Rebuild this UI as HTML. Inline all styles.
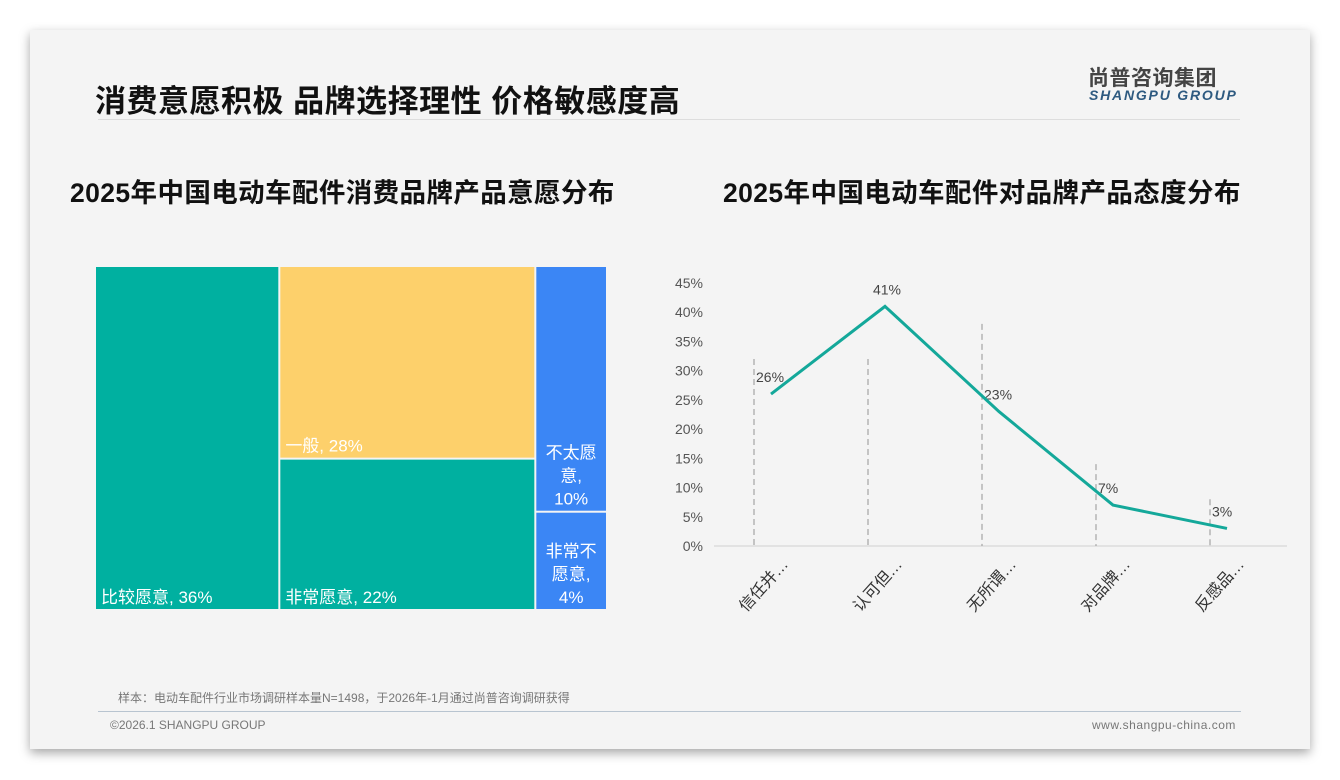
<!DOCTYPE html>
<html><head><meta charset="utf-8">
<style>
body{margin:0;width:1340px;height:780px;background:#fff;position:relative;overflow:hidden;font-family:"Liberation Sans","Noto Sans CJK SC",sans-serif}
#card{position:absolute;left:30px;top:30px;width:1280px;height:719px;background:#f4f4f4;box-shadow:0 4px 10px rgba(0,0,0,.35)}
.abs{position:absolute;white-space:nowrap}
</style></head><body>
<div id="card"></div>
<div class="abs" style="left:95px;top:76px;font-size:31px;font-weight:bold;color:#111;letter-spacing:0.5px">消费意愿积极 品牌选择理性 价格敏感度高</div>
<div class="abs" style="left:1088px;top:62px;font-size:21px;font-weight:bold;color:#444;letter-spacing:0.5px">尚普咨询集团</div>
<div class="abs" style="left:1089px;top:87px;font-size:14px;font-weight:bold;font-style:italic;color:#2e5a80;letter-spacing:1.8px">SHANGPU GROUP</div>
<div class="abs" style="left:98px;top:119px;width:1142px;height:1px;background:#ddd"></div>
<div class="abs" style="left:70px;top:171px;font-size:26.5px;font-weight:bold;color:#111;letter-spacing:0.4px">2025年中国电动车配件消费品牌产品意愿分布</div>
<div class="abs" style="left:723px;top:171px;font-size:26.5px;font-weight:bold;color:#111;letter-spacing:0.4px">2025年中国电动车配件对品牌产品态度分布</div>
<svg id="tm" class="abs" style="left:0;top:0" width="1340" height="780"></svg>
<div class="abs" style="left:118px;top:689px;font-size:12px;color:#777">样本：电动车配件行业市场调研样本量N=1498，于2026年-1月通过尚普咨询调研获得</div>
<div class="abs" style="left:98px;top:711px;width:1143px;height:1px;background:#b8c4d0"></div>
<div class="abs" style="left:110px;top:718px;font-size:12px;color:#777">©2026.1 SHANGPU GROUP</div>
<div class="abs" style="left:1092px;top:718px;font-size:12px;color:#777;letter-spacing:0.5px">www.shangpu-china.com</div>
<script>
const tmLabels=["比较愿意","一般","非常愿意","不太愿意","非常不愿意"];
const tmValues=[36,28,22,10,4];
const lnCats=["信任并…","认可但…","无所谓…","对品牌…","反感品…"];
const lnValues=[26,41,23,7,3];
const lnTicks=[0,5,10,15,20,25,30,35,40,45];
const dropTops=[32,32,38,14,8];
const NS="http://www.w3.org/2000/svg",svg=document.getElementById('tm');
function el(t,a,p){const e=document.createElementNS(NS,t);for(const k in a)e.setAttribute(k,a[k]);(p||svg).appendChild(e);return e;}
const X0=95,Y0=266,W=512,H=344,tot=tmValues.reduce((a,b)=>a+b,0);
const cols=[[0],[1,2],[3,4]],colors=["#00b0a0","#fdd06b","#00b0a0","#3b86f5","#3b86f5"];
let cx=X0;
cols.forEach(c=>{const s=c.reduce((a,i)=>a+tmValues[i],0),w=W*s/tot;let cy=Y0;
 c.forEach(i=>{const h=H*tmValues[i]/s;
  const r=el('rect',{x:cx+1,y:cy+1,width:w-2,height:h-2,fill:colors[i]});
  
  
  if(w>=100){const t=el('text',{x:cx+6,y:cy+h-7,fill:'#fff','font-size':17});t.textContent=tmLabels[i]+", "+tmValues[i]+"%";
   
   }
  else{const lines=[tmLabels[i].slice(0,3),tmLabels[i].slice(3)+",",tmValues[i]+"%"];
   lines.forEach((ln,k)=>{const t=el('text',{x:cx+w/2,y:cy+h-7-(lines.length-1-k)*23,fill:'#fff','font-size':17,'text-anchor':'middle'});t.textContent=ln;
    
    });}
  cy+=h;});cx+=w;});
const yb=546,yt=283,ymax=45,bx=714,bw=114;
const y=v=>yb-(yb-yt)*v/ymax, x=i=>bx+bw*(i+0.5);
lnTicks.forEach(t=>{const e=el('text',{x:703,y:y(t)+5,'font-size':14,fill:'#555','text-anchor':'end'});e.textContent=t+"%";
 
 });
const ax=el('line',{x1:714,x2:1287,y1:yb,y2:yb,stroke:'#d0d0d0','stroke-width':1});


lnValues.forEach((v,i)=>{const d=el('line',{x1:x(i)-17,x2:x(i)-17,y1:y(dropTops[i]),y2:yb,stroke:'#aaa','stroke-width':1.3,'stroke-dasharray':'6,4'});
 
 
 const l=el('text',{x:i==1?x(i)+2:x(i)-15,y:y(v)-12,'font-size':14,fill:'#444','text-anchor':i==1?'middle':'start'});l.textContent=v+"%";
 
 
 const c=el('text',{transform:`translate(${x(i)+18},${yb+19}) rotate(-48)`,'font-size':16,fill:'#333','text-anchor':'end'});c.textContent=lnCats[i];
 
 });
const p=el('polyline',{points:lnValues.map((v,i)=>x(i)+","+y(v)).join(" "),fill:'none',stroke:'#14a89a','stroke-width':3});


</script>
</body></html>
